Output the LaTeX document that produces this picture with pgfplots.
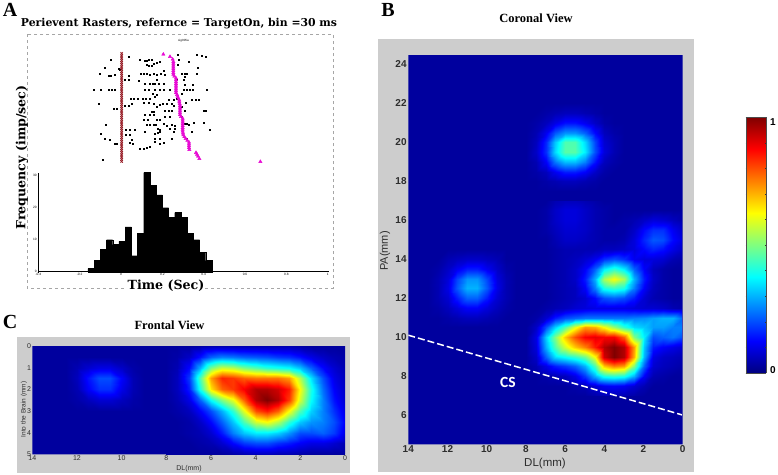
\documentclass[border=0pt]{standalone}
\usepackage{pgfplots}
\pgfplotsset{compat=1.18}
\usepackage{fontspec}
\setmainfont{Liberation Serif}
\newfontfamily\ars{Liberation Sans}
\newfontfamily\slab{DejaVu Serif}
\newfontfamily\calib{Carlito}
\newcommand{\fs}[1]{\fontsize{#1}{#1}\selectfont}
\definecolor{panelgray}{RGB}{205,205,205}
\definecolor{bgblue}{rgb}{0,0,0.62}
\definecolor{ticktext}{RGB}{45,45,45}
\definecolor{rastred}{RGB}{150,25,35}
\definecolor{rastmag}{RGB}{232,10,212}
\pgfplotsset{
  colormap={myjet}{rgb(0pt)=(0,0,.5) rgb(125pt)=(0,0,1) rgb(375pt)=(0,1,1) rgb(625pt)=(1,1,0) rgb(875pt)=(1,0,0) rgb(1000pt)=(.5,0,0)},
  heat/.style={
    scale only axis, anchor=center, view={0}{90}, colormap name=myjet,
    point meta min=0, point meta max=1,
    x dir=reverse, enlargelimits=false, clip=true,
    axis background/.style={fill=bgblue},
    axis line style={draw=none}, major tick length=0pt,
    ytick pos=right, xtick pos=left,
    /pgf/number format/assume math mode=true,
  },
}
\begin{document}
\begin{tikzpicture}
\path[use as bounding box] (0pt,0pt) rectangle (778pt,-474pt);
\fill[white] (0pt,0pt) rectangle (778pt,-474pt);

% panel letters and titles
\node[font=\bfseries\fs{20}] at (10pt,-10pt) {A};
\node[font=\bfseries\fs{20}] at (388pt,-10pt) {B};
\node[font=\bfseries\fs{20}] at (10pt,-322pt) {C};
\node[font=\bfseries\fs{12.5}] at (536pt,-18pt) {Coronal View};
\node[font=\bfseries\fs{12.5}] at (169.5pt,-325pt) {Frontal View};
\node[font=\slab\bfseries\fs{10.85}] at (179pt,-24pt) {Perievent Rasters, refernce = TargetOn, bin =30 ms};

% panel A frame
\draw[gray!70,dashed,line width=.7pt] (27pt,-34pt) rectangle (333pt,-288pt);
\node[font=\ars\fs{3}] at (183.5pt,-41pt) {sig005a};

% grey panels
\fill[panelgray] (378pt,-39pt) rectangle (694pt,-472pt);
\fill[panelgray] (17pt,-337pt) rectangle (350pt,-473pt);

% ---------- raster (x in 1/620 s from TargetOn, y in rows counted downward)
\begin{axis}[scale only axis, anchor=center, at={(183pt,-98.8pt)}, width=289.4pt, height=129pt,
  hide axis, xmin=-248, xmax=620, ymin=103, ymax=490, y dir=reverse, clip=false]
\addplot[only marks, mark=square*, mark size=.45pt, black] coordinates {
(22,170)(170,165)(227,163)(242,168)(255,170)
(-30,180)(57,180)(70,183)(77,183)(82,180)(92,180)(115,185)(172,180)(204,185)
(-48,203)(-8,205)(77,195)(84,197)(92,197)(99,190)(107,188)(170,195)(229,203)
(-63,220)(-38,227)(-30,227)(-18,225)(-3,210)(22,226)(59,220)(67,222)(77,220)(85,225)(97,222)(107,225)(119,220)(127,213)(132,225)(182,222)(190,222)(197,222)(227,220)
(12,238)(22,238)(52,243)(107,240)(167,240)(187,240)(192,230)
(72,252)(85,252)(95,252)(102,252)(112,252)(127,252)(192,255)(215,255)
(-83,268)(-60,268)(-36,268)(-28,268)(-20,268)(72,268)(82,268)(102,268)(117,268)(127,268)(147,268)(187,268)(197,268)(205,268)(214,268)(257,268)
(95,282)(107,285)(182,280)
(29,297)(39,297)(49,297)(65,297)(74,297)(87,295)(102,290)(142,298)(157,298)(167,297)(212,300)(225,300)(233,300)
(-66,310)(32,310)(67,308)(82,308)(99,312)(117,315)(125,312)(137,310)(152,310)(195,308)
(-23,325)(-13,325)(12,318)(22,316)(107,320)(157,318)(182,320)
(92,335)(99,335)(132,333)(142,333)(152,333)(192,332)(247,333)(255,333)
(72,345)(85,345)(97,345)(132,350)(147,350)(182,350)
(67,358)(79,358)(107,360)(117,360)
(-45,375)(77,373)(87,373)(97,373)(105,373)(127,370)(137,378)(152,375)(162,378)(192,372)(197,372)(202,375)(217,368)(247,368)
(15,390)(27,390)(40,390)(109,385)(117,388)(147,385)(162,385)(267,390)
(-60,400)(15,403)(27,403)(72,395)(102,400)(109,398)(117,395)(157,395)(212,395)
(-48,417)(-33,420)(32,418)(102,417)(115,417)(152,417)(197,415)
(-18,430)(-13,432)(27,428)(34,432)(102,425)(115,430)(127,428)
(57,447)(69,445)(77,442)(87,440)
(-56,480)
};
\addplot[only marks, mark=x, mark size=1.7pt, line width=.65pt, rastred] coordinates {
(2,160)(2,165.5)(2,171)(2,176.5)(2,182)(2,187.5)(2,193)(2,198.5)(2,204)(2,209.5)(2,215)(2,220.5)(2,226)(2,231.5)(2,237)(2,242.5)(2,248)(2,253.5)(2,259)(2,264.5)(2,270)(2,275.5)(2,281)(2,286.5)(2,292)(2,297.5)(2,303)(2,308.5)(2,314)(2,319.5)(2,325)(2,330.5)(2,336)(2,341.5)(2,347)(2,352.5)(2,358)(2,363.5)(2,369)(2,374.5)(2,380)(2,385.5)(2,391)(2,396.5)(2,402)(2,407.5)(2,413)(2,418.5)(2,424)(2,429.5)(2,435)(2,440.5)(2,446)(2,451.5)(2,457)(2,462.5)(2,468)(2,473.5)(2,479)(2,484.5)
};
\addplot[only marks, mark=triangle*, mark size=1.9pt, rastmag, mark options={draw=none}] coordinates {
(127,163)(147,170)(155,178)(157,185)(157,190.5)(157,196)(157,201.5)(157,207)(157,212.5)(157,218)(157,223.5)(160,229)(165,234.5)(165,240)(165,245.5)(165,251)(165,256.5)(165,262)(165,267.5)(165,273)(165,278.5)(168,284)(170,289.5)(172,295)(175,300.5)(175,306)(176,311.5)(177,317)(177,322.5)(177,328)(177,333.5)(177,339)(177,344.5)(180,350)(185,355.5)(185,361)(185,366.5)(185,372)(185,377.5)(185,383)(185,388.5)(185,394)(186,399.5)(187,405)(190,410.5)(194,416)(199,421.5)(204,427)(204,432.5)(204,438)(204,443.5)(205,449)(225,458)(228,463.5)(231,469)(235,476)(418,485)
};
\end{axis}

% ---------- histogram
\begin{axis}[scale only axis, anchor=center, at={(183pt,-222.1pt)}, width=289.4pt, height=99.2pt,
  xmin=-0.4, xmax=1, ymin=0, ymax=31, clip=false,
  axis x line=bottom, axis y line=left,
  axis line style={-, line width=.8pt, black},
  xtick={-0.4,-0.2,0,0.2,0.4,0.6,0.8,1}, xticklabels={-0.4,-0.2,0,0.2,0.4,0.6,0.8,1},
  ytick={0,10,20,30}, yticklabels={0,10,20,30},
  major tick length=1.2pt,
  tick style={black, line width=.3pt},
  tick label style={font=\ars\fs{3.2}, inner sep=.8pt},
  /pgf/number format/assume math mode=true]
\addplot[ybar interval, fill=black, draw=black] coordinates {
(-0.16,1)(-0.13,3.5)(-0.10,7)(-0.07,10)(-0.04,8.5)(-0.01,9.5)(0.02,14)(0.05,5)(0.08,12)(0.11,31)(0.14,27)(0.17,24)(0.20,20)(0.23,17)(0.26,18.5)(0.29,17)(0.32,12)(0.35,10)(0.38,6)(0.41,3.5)(0.44,0)};
\end{axis}
\node[font=\slab\bfseries\fs{12.6}, rotate=90] at (22pt,-157.5pt) {Frequency (imp/sec)};
\node[font=\slab\bfseries\fs{12.6}, fill=white, inner sep=1pt] at (166pt,-285.5pt) {Time (Sec)};

% ---------- panel B
\begin{axis}[heat, at={(545.5pt,-249.65pt)}, width=274.4pt, height=389.3pt,
  xmin=0, xmax=14, ymin=4.5, ymax=24.48,
  xtick={0,2,...,14}, ytick={6,8,...,24},
  tick label style={font=\ars\bfseries\fs{10}, text=ticktext, inner sep=1.5pt},
  ]
\addplot3[surf, shader=interp, mesh/cols=17] coordinates {
(0,7,.03)(.5,7,.03)(1,7,.03)(1.5,7,.03)(2,7,.03)(2.5,7,.04)(3,7,.05)(3.5,7,.05)(4,7,.05)(4.5,7,.04)(5,7,.03)(5.5,7,.03)(6,7,.03)(6.5,7,.03)(7,7,.03)(7.5,7,.03)(8,7,.03)
(0,7.5,.03)(.5,7.5,.03)(1,7.5,.03)(1.5,7.5,.03)(2,7.5,.05)(2.5,7.5,.08)(3,7.5,.11)(3.5,7.5,.12)(4,7.5,.11)(4.5,7.5,.08)(5,7.5,.05)(5.5,7.5,.04)(6,7.5,.03)(6.5,7.5,.03)(7,7.5,.03)(7.5,7.5,.03)(8,7.5,.03)
(0,8,.03)(.5,8,.03)(1,8,.04)(1.5,8,.05)(2,8,.12)(2.5,8,.3)(3,8,.4)(3.5,8,.42)(4,8,.4)(4.5,8,.3)(5,8,.18)(5.5,8,.1)(6,8,.06)(6.5,8,.05)(7,8,.04)(7.5,8,.03)(8,8,.03)
(0,8.5,.04)(.5,8.5,.05)(1,8.5,.06)(1.5,8.5,.08)(2,8.5,.22)(2.5,8.5,.5)(3,8.5,.72)(3.5,8.5,.75)(4,8.5,.68)(4.5,8.5,.45)(5,8.5,.3)(5.5,8.5,.22)(6,8.5,.18)(6.5,8.5,.15)(7,8.5,.1)(7.5,8.5,.05)(8,8.5,.03)
(0,9,.05)(.5,9,.06)(1,9,.07)(1.5,9,.1)(2,9,.3)(2.5,9,.7)(3,9,.95)(3.5,9,1)(4,9,.92)(4.5,9,.62)(5,9,.48)(5.5,9,.42)(6,9,.38)(6.5,9,.34)(7,9,.22)(7.5,9,.07)(8,9,.03)
(0,9.5,.08)(.5,9.5,.1)(1,9.5,.12)(1.5,9.5,.15)(2,9.5,.32)(2.5,9.5,.72)(3,9.5,.95)(3.5,9.5,1)(4,9.5,.95)(4.5,9.5,.85)(5,9.5,.75)(5.5,9.5,.68)(6,9.5,.58)(6.5,9.5,.45)(7,9.5,.3)(7.5,9.5,.09)(8,9.5,.03)
(0,10,.2)(.5,10,.24)(1,10,.22)(1.5,10,.2)(2,10,.36)(2.5,10,.5)(3,10,.78)(3.5,10,.88)(4,10,.88)(4.5,10,.9)(5,10,.88)(5.5,10,.8)(6,10,.68)(6.5,10,.5)(7,10,.33)(7.5,10,.1)(8,10,.03)
(0,10.5,.25)(.5,10.5,.25)(1,10.5,.28)(1.5,10.5,.28)(2,10.5,.32)(2.5,10.5,.34)(3,10.5,.42)(3.5,10.5,.52)(4,10.5,.62)(4.5,10.5,.7)(5,10.5,.72)(5.5,10.5,.6)(6,10.5,.45)(6.5,10.5,.33)(7,10.5,.2)(7.5,10.5,.07)(8,10.5,.03)
(0,11,.22)(.5,11,.3)(1,11,.3)(1.5,11,.28)(2,11,.26)(2.5,11,.25)(3,11,.24)(3.5,11,.24)(4,11,.24)(4.5,11,.24)(5,11,.24)(5.5,11,.22)(6,11,.2)(6.5,11,.15)(7,11,.08)(7.5,11,.04)(8,11,.03)
(0,11.5,.04)(.5,11.5,.05)(1,11.5,.07)(1.5,11.5,.08)(2,11.5,.08)(2.5,11.5,.09)(3,11.5,.1)(3.5,11.5,.1)(4,11.5,.1)(4.5,11.5,.1)(5,11.5,.09)(5.5,11.5,.08)(6,11.5,.06)(6.5,11.5,.05)(7,11.5,.04)(7.5,11.5,.03)(8,11.5,.03)
(0,12,.03)(.5,12,.03)(1,12,.04)(1.5,12,.05)(2,12,.08)(2.5,12,.15)(3,12,.2)(3.5,12,.22)(4,12,.2)(4.5,12,.13)(5,12,.08)(5.5,12,.06)(6,12,.05)(6.5,12,.04)(7,12,.03)(7.5,12,.03)(8,12,.03)
(0,12.5,.03)(.5,12.5,.03)(1,12.5,.04)(1.5,12.5,.06)(2,12.5,.12)(2.5,12.5,.25)(3,12.5,.4)(3.5,12.5,.43)(4,12.5,.4)(4.5,12.5,.25)(5,12.5,.12)(5.5,12.5,.06)(6,12.5,.05)(6.5,12.5,.04)(7,12.5,.03)(7.5,12.5,.03)(8,12.5,.03)
(0,13,.03)(.5,13,.03)(1,13,.04)(1.5,13,.07)(2,13,.15)(2.5,13,.3)(3,13,.54)(3.5,13,.62)(4,13,.54)(4.5,13,.3)(5,13,.15)(5.5,13,.07)(6,13,.05)(6.5,13,.04)(7,13,.03)(7.5,13,.03)(8,13,.03)
(0,13.5,.03)(.5,13.5,.03)(1,13.5,.04)(1.5,13.5,.06)(2,13.5,.12)(2.5,13.5,.22)(3,13.5,.36)(3.5,13.5,.42)(4,13.5,.36)(4.5,13.5,.22)(5,13.5,.12)(5.5,13.5,.07)(6,13.5,.05)(6.5,13.5,.04)(7,13.5,.03)(7.5,13.5,.03)(8,13.5,.03)
(0,14,.04)(.5,14,.05)(1,14,.08)(1.5,14,.09)(2,14,.09)(2.5,14,.11)(3,14,.17)(3.5,14,.2)(4,14,.17)(4.5,14,.11)(5,14,.08)(5.5,14,.06)(6,14,.05)(6.5,14,.04)(7,14,.03)(7.5,14,.03)(8,14,.03)
(0,14.5,.07)(.5,14.5,.1)(1,14.5,.14)(1.5,14.5,.16)(2,14.5,.13)(2.5,14.5,.09)(3,14.5,.07)(3.5,14.5,.06)(4,14.5,.06)(4.5,14.5,.05)(5,14.5,.05)(5.5,14.5,.05)(6,14.5,.05)(6.5,14.5,.04)(7,14.5,.03)(7.5,14.5,.03)(8,14.5,.03)
(0,15,.09)(.5,15,.13)(1,15,.2)(1.5,15,.21)(2,15,.16)(2.5,15,.09)(3,15,.05)(3.5,15,.04)(4,15,.04)(4.5,15,.05)(5,15,.06)(5.5,15,.07)(6,15,.07)(6.5,15,.05)(7,15,.03)(7.5,15,.03)(8,15,.03)
(0,15.5,.07)(.5,15.5,.11)(1,15.5,.17)(1.5,15.5,.17)(2,15.5,.13)(2.5,15.5,.07)(3,15.5,.04)(3.5,15.5,.04)(4,15.5,.04)(4.5,15.5,.05)(5,15.5,.07)(5.5,15.5,.08)(6,15.5,.08)(6.5,15.5,.06)(7,15.5,.04)(7.5,15.5,.03)(8,15.5,.03)
(0,16,.04)(.5,16,.06)(1,16,.08)(1.5,16,.09)(2,16,.07)(2.5,16,.05)(3,16,.04)(3.5,16,.03)(4,16,.04)(4.5,16,.05)(5,16,.07)(5.5,16,.09)(6,16,.09)(6.5,16,.07)(7,16,.04)(7.5,16,.03)(8,16,.03)
(0,16.5,.03)(.5,16.5,.03)(1,16.5,.03)(1.5,16.5,.03)(2,16.5,.03)(2.5,16.5,.03)(3,16.5,.03)(3.5,16.5,.03)(4,16.5,.04)(4.5,16.5,.05)(5,16.5,.07)(5.5,16.5,.09)(6,16.5,.09)(6.5,16.5,.07)(7,16.5,.04)(7.5,16.5,.03)(8,16.5,.03)
(0,17,.03)(.5,17,.03)(1,17,.03)(1.5,17,.03)(2,17,.03)(2.5,17,.03)(3,17,.03)(3.5,17,.03)(4,17,.03)(4.5,17,.04)(5,17,.05)(5.5,17,.06)(6,17,.06)(6.5,17,.05)(7,17,.03)(7.5,17,.03)(8,17,.03)
};
\addplot3[surf, shader=interp, mesh/cols=11] coordinates {
(3,17.5,.03)(3.5,17.5,.03)(4,17.5,.03)(4.5,17.5,.03)(5,17.5,.03)(5.5,17.5,.03)(6,17.5,.03)(6.5,17.5,.03)(7,17.5,.03)(7.5,17.5,.03)(8,17.5,.03)
(3,18,.03)(3.5,18,.03)(4,18,.03)(4.5,18,.04)(5,18,.05)(5.5,18,.06)(6,18,.06)(6.5,18,.05)(7,18,.04)(7.5,18,.03)(8,18,.03)
(3,18.5,.03)(3.5,18.5,.03)(4,18.5,.04)(4.5,18.5,.07)(5,18.5,.12)(5.5,18.5,.15)(6,18.5,.15)(6.5,18.5,.11)(7,18.5,.06)(7.5,18.5,.04)(8,18.5,.03)
(3,19,.03)(3.5,19,.04)(4,19,.06)(4.5,19,.14)(5,19,.25)(5.5,19,.31)(6,19,.31)(6.5,19,.24)(7,19,.12)(7.5,19,.05)(8,19,.03)
(3,19.5,.03)(3.5,19.5,.05)(4,19.5,.09)(4.5,19.5,.2)(5,19.5,.36)(5.5,19.5,.46)(6,19.5,.46)(6.5,19.5,.34)(7,19.5,.17)(7.5,19.5,.07)(8,19.5,.03)
(3,20,.03)(3.5,20,.05)(4,20,.08)(4.5,20,.19)(5,20,.34)(5.5,20,.45)(6,20,.45)(6.5,20,.32)(7,20,.16)(7.5,20,.06)(8,20,.03)
(3,20.5,.03)(3.5,20.5,.04)(4,20.5,.06)(4.5,20.5,.13)(5,20.5,.22)(5.5,20.5,.27)(6,20.5,.27)(6.5,20.5,.21)(7,20.5,.11)(7.5,20.5,.05)(8,20.5,.03)
(3,21,.03)(3.5,21,.03)(4,21,.04)(4.5,21,.07)(5,21,.11)(5.5,21,.14)(6,21,.14)(6.5,21,.1)(7,21,.06)(7.5,21,.04)(8,21,.03)
(3,21.5,.03)(3.5,21.5,.03)(4,21.5,.03)(4.5,21.5,.04)(5,21.5,.05)(5.5,21.5,.06)(6,21.5,.06)(6.5,21.5,.05)(7,21.5,.04)(7.5,21.5,.03)(8,21.5,.03)
(3,22,.03)(3.5,22,.03)(4,22,.03)(4.5,22,.03)(5,22,.03)(5.5,22,.03)(6,22,.03)(6.5,22,.03)(7,22,.03)(7.5,22,.03)(8,22,.03)
};
\addplot3[surf, shader=interp, mesh/cols=10] coordinates {
(8.5,10.5,.03)(9,10.5,.03)(9.5,10.5,.03)(10,10.5,.03)(10.5,10.5,.03)(11,10.5,.03)(11.5,10.5,.03)(12,10.5,.03)(12.5,10.5,.03)(13,10.5,.03)
(8.5,11,.03)(9,11,.03)(9.5,11,.04)(10,11,.05)(10.5,11,.06)(11,11,.06)(11.5,11,.05)(12,11,.04)(12.5,11,.03)(13,11,.03)
(8.5,11.5,.03)(9,11.5,.04)(9.5,11.5,.06)(10,11.5,.09)(10.5,11.5,.12)(11,11.5,.12)(11.5,11.5,.09)(12,11.5,.06)(12.5,11.5,.04)(13,11.5,.03)
(8.5,12,.03)(9,12,.05)(9.5,12,.08)(10,12,.15)(10.5,12,.22)(11,12,.22)(11.5,12,.15)(12,12,.08)(12.5,12,.05)(13,12,.03)
(8.5,12.5,.03)(9,12.5,.05)(9.5,12.5,.1)(10,12.5,.21)(10.5,12.5,.3)(11,12.5,.3)(11.5,12.5,.21)(12,12.5,.1)(12.5,12.5,.05)(13,12.5,.03)
(8.5,13,.03)(9,13,.05)(9.5,13,.09)(10,13,.19)(10.5,13,.27)(11,13,.27)(11.5,13,.19)(12,13,.09)(12.5,13,.05)(13,13,.03)
(8.5,13.5,.03)(9,13.5,.04)(9.5,13.5,.07)(10,13.5,.11)(10.5,13.5,.15)(11,13.5,.15)(11.5,13.5,.11)(12,13.5,.07)(12.5,13.5,.04)(13,13.5,.03)
(8.5,14,.03)(9,14,.03)(9.5,14,.05)(10,14,.06)(10.5,14,.07)(11,14,.07)(11.5,14,.06)(12,14,.05)(12.5,14,.03)(13,14,.03)
(8.5,14.5,.03)(9,14.5,.03)(9.5,14.5,.03)(10,14.5,.03)(10.5,14.5,.03)(11,14.5,.03)(11.5,14.5,.03)(12,14.5,.03)(12.5,14.5,.03)(13,14.5,.03)
};
\addplot3[white, line width=1.5pt, dash pattern=on 7pt off 3pt] coordinates {(14,10.1,0)(0,6,0)};
\end{axis}
\node[font=\calib\bfseries\fs{15.5}, white] at (508pt,-382pt) {CS};
\node[font=\ars\fs{11.5}, text=ticktext] at (545pt,-464pt) {DL(mm)};
\node[font=\ars\fs{11}, text=ticktext, rotate=90] at (385pt,-251pt) {PA(mm)};

% ---------- panel C
\begin{axis}[heat, at={(188.65pt,-400.15pt)}, width=312.7pt, height=108.3pt,
  xmin=0, xmax=14, ymin=0, ymax=5, y dir=reverse,
  xtick={0,2,...,14}, ytick={0,1,...,5},
  tick label style={font=\ars\fs{7}, text=ticktext, inner sep=1pt},
  ]
\addplot3[surf, shader=interp, mesh/cols=17] coordinates {
(0,0,.03)(.5,0,.03)(1,0,.03)(1.5,0,.03)(2,0,.04)(2.5,0,.05)(3,0,.05)(3.5,0,.05)(4,0,.05)(4.5,0,.05)(5,0,.05)(5.5,0,.05)(6,0,.05)(6.5,0,.04)(7,0,.03)(7.5,0,.03)(8,0,.03)
(0,.5,.04)(.5,.5,.05)(1,.5,.07)(1.5,.5,.1)(2,.5,.14)(2.5,.5,.17)(3,.5,.18)(3.5,.5,.2)(4,.5,.21)(4.5,.5,.22)(5,.5,.24)(5.5,.5,.25)(6,.5,.22)(6.5,.5,.14)(7,.5,.07)(7.5,.5,.04)(8,.5,.03)
(0,1,.05)(.5,1,.08)(1,1,.13)(1.5,1,.22)(2,1,.32)(2.5,1,.38)(3,1,.4)(3.5,1,.42)(4,1,.46)(4.5,1,.5)(5,1,.56)(5.5,1,.58)(6,1,.5)(6.5,1,.3)(7,1,.13)(7.5,1,.05)(8,1,.03)
(0,1.5,.06)(.5,1.5,.1)(1,1.5,.2)(1.5,1.5,.35)(2,1.5,.55)(2.5,1.5,.72)(3,1.5,.76)(3.5,1.5,.76)(4,1.5,.76)(4.5,1.5,.78)(5,1.5,.82)(5.5,1.5,.84)(6,1.5,.72)(6.5,1.5,.45)(7,1.5,.18)(7.5,1.5,.06)(8,1.5,.03)
(0,2,.07)(.5,2,.12)(1,2,.23)(1.5,2,.4)(2,2,.62)(2.5,2,.85)(3,2,.92)(3.5,2,.95)(4,2,.95)(4.5,2,.88)(5,2,.82)(5.5,2,.78)(6,2,.65)(6.5,2,.4)(7,2,.15)(7.5,2,.06)(8,2,.03)
(0,2.5,.08)(.5,2.5,.14)(1,2.5,.25)(1.5,2.5,.38)(2,2.5,.58)(2.5,2.5,.82)(3,2.5,.95)(3.5,2.5,1)(4,2.5,.95)(4.5,2.5,.78)(5,2.5,.6)(5.5,2.5,.5)(6,2.5,.38)(6.5,2.5,.22)(7,2.5,.1)(7.5,2.5,.05)(8,2.5,.03)
(0,3,.1)(.5,3,.17)(1,3,.25)(1.5,3,.33)(2,3,.45)(2.5,3,.62)(3,3,.78)(3.5,3,.85)(4,3,.8)(4.5,3,.6)(5,3,.42)(5.5,3,.3)(6,3,.2)(6.5,3,.12)(7,3,.06)(7.5,3,.04)(8,3,.03)
(0,3.5,.12)(.5,3.5,.2)(1,3.5,.25)(1.5,3.5,.27)(2,3.5,.32)(2.5,3.5,.42)(3,3.5,.55)(3.5,3.5,.62)(4,3.5,.58)(4.5,3.5,.45)(5,3.5,.32)(5.5,3.5,.22)(6,3.5,.13)(6.5,3.5,.07)(7,3.5,.04)(7.5,3.5,.03)(8,3.5,.03)
(0,4,.1)(.5,4,.18)(1,4,.22)(1.5,4,.2)(2,4,.2)(2.5,4,.27)(3,4,.33)(3.5,4,.36)(4,4,.36)(4.5,4,.32)(5,4,.25)(5.5,4,.15)(6,4,.08)(6.5,4,.05)(7,4,.04)(7.5,4,.03)(8,4,.03)
(0,4.5,.05)(.5,4.5,.08)(1,4.5,.1)(1.5,4.5,.1)(2,4.5,.12)(2.5,4.5,.15)(3,4.5,.17)(3.5,4.5,.2)(4,4.5,.2)(4.5,4.5,.18)(5,4.5,.13)(5.5,4.5,.08)(6,4.5,.05)(6.5,4.5,.04)(7,4.5,.03)(7.5,4.5,.03)(8,4.5,.03)
(0,5,.03)(.5,5,.03)(1,5,.03)(1.5,5,.03)(2,5,.04)(2.5,5,.05)(3,5,.05)(3.5,5,.06)(4,5,.06)(4.5,5,.05)(5,5,.04)(5.5,5,.03)(6,5,.03)(6.5,5,.03)(7,5,.03)(7.5,5,.03)(8,5,.03)
};
\addplot3[surf, shader=interp, mesh/cols=8] coordinates {
(9,.5,.03)(9.5,.5,.03)(10,.5,.03)(10.5,.5,.03)(11,.5,.03)(11.5,.5,.03)(12,.5,.03)(12.5,.5,.03)
(9,1,.03)(9.5,1,.04)(10,1,.07)(10.5,1,.1)(11,1,.1)(11.5,1,.08)(12,1,.05)(12.5,1,.03)
(9,1.5,.03)(9.5,1.5,.05)(10,1.5,.12)(10.5,1.5,.2)(11,1.5,.2)(11.5,1.5,.14)(12,1.5,.06)(12.5,1.5,.03)
(9,2,.03)(9.5,2,.05)(10,2,.1)(10.5,2,.17)(11,2,.17)(11.5,2,.12)(12,2,.05)(12.5,2,.03)
(9,2.5,.03)(9.5,2.5,.04)(10,2.5,.06)(10.5,2.5,.08)(11,2.5,.08)(11.5,2.5,.06)(12,2.5,.04)(12.5,2.5,.03)
(9,3,.03)(9.5,3,.03)(10,3,.03)(10.5,3,.03)(11,3,.03)(11.5,3,.03)(12,3,.03)(12.5,3,.03)
};
\end{axis}
\node[font=\ars\fs{7}, text=ticktext] at (189pt,-469pt) {DL(mm)};
\node[font=\ars\fs{6.5}, text=ticktext, rotate=90] at (24pt,-409.5pt) {Into the Brain (mm)};

% ---------- colour bar
\begin{axis}[scale only axis, anchor=center, at={(756pt,-245pt)}, width=20.3pt, height=255.7pt,
  view={0}{90}, colormap name=myjet, point meta min=0, point meta max=1,
  xmin=0, xmax=1, ymin=0, ymax=1, enlargelimits=false,
  xtick=\empty, ytick={0,.1,...,1}, yticklabels={}, ytick pos=both, major tick length=1.5pt,
  tick style={black!80, line width=.4pt}, axis line style={black!70, line width=.5pt}]
\addplot3[surf, shader=interp, mesh/cols=2] coordinates {(0,0,0)(1,0,0)(0,.125,.125)(1,.125,.125)(0,.375,.375)(1,.375,.375)(0,.625,.625)(1,.625,.625)(0,.875,.875)(1,.875,.875)(0,1,1)(1,1,1)};
\end{axis}
\node[font=\ars\bfseries\fs{10}] at (773pt,-122pt) {1};
\node[font=\ars\bfseries\fs{10}] at (773pt,-370pt) {0};
\end{tikzpicture}
\end{document}
